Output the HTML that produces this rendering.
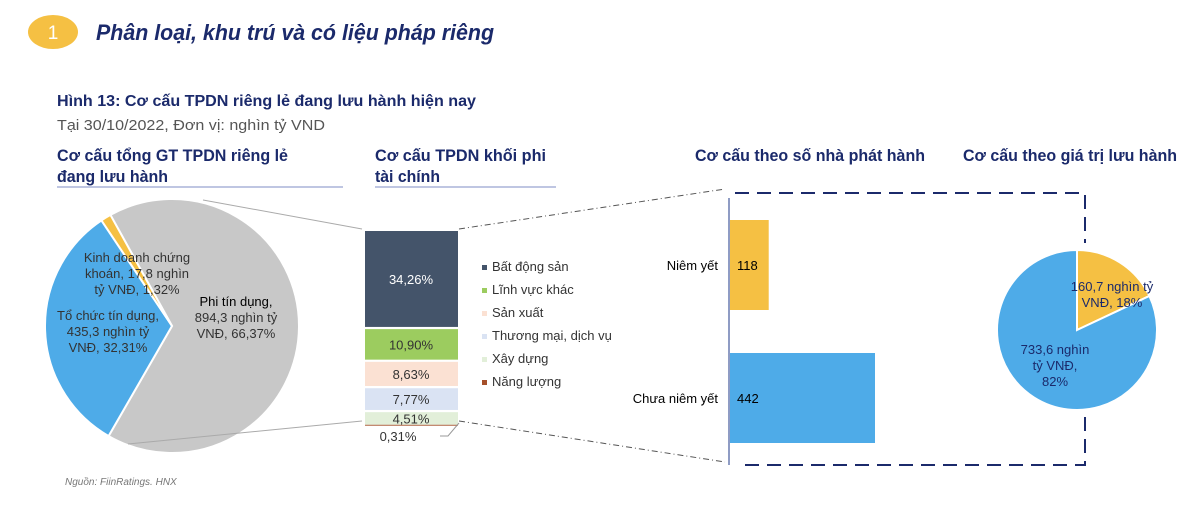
<!DOCTYPE html>
<html><head><meta charset="utf-8"><style>
body{margin:0;background:#fff;width:1200px;height:506px;overflow:hidden;font-family:"Liberation Sans",sans-serif}
svg{display:block}
</style></head><body>
<svg width="1200" height="506" viewBox="0 0 1200 506" xmlns="http://www.w3.org/2000/svg" font-family="Liberation Sans, sans-serif">
<ellipse cx="53" cy="32" rx="25" ry="17" fill="#f5c043"/>
<text x="53" y="39" font-size="19" fill="#fff" text-anchor="middle">1</text>
<text x="96" y="40" font-size="22" font-weight="bold" font-style="italic" fill="#1b2a6b" textLength="398" lengthAdjust="spacingAndGlyphs">Phân loại, khu trú và có liệu pháp riêng</text>
<text x="57" y="106" font-size="16" font-weight="bold" fill="#1b2a6b" textLength="419" lengthAdjust="spacingAndGlyphs">Hình 13: Cơ cấu TPDN riêng lẻ đang lưu hành hiện nay</text>
<text x="57" y="130" font-size="15" fill="#555" textLength="268" lengthAdjust="spacingAndGlyphs">Tại 30/10/2022, Đơn vị: nghìn tỷ VND</text>
<text font-size="17" font-weight="bold" fill="#1b2a6b"><tspan x="57" y="161" textLength="231" lengthAdjust="spacingAndGlyphs">Cơ cấu tổng GT TPDN riêng lẻ</tspan><tspan x="57" y="182" textLength="111" lengthAdjust="spacingAndGlyphs">đang lưu hành</tspan></text>
<line x1="57" y1="187" x2="343" y2="187" stroke="#aab4d8" stroke-width="1.5"/>
<text font-size="17" font-weight="bold" fill="#1b2a6b"><tspan x="375" y="161" textLength="171" lengthAdjust="spacingAndGlyphs">Cơ cấu TPDN khối phi</tspan><tspan x="375" y="182" textLength="65" lengthAdjust="spacingAndGlyphs">tài chính</tspan></text>
<line x1="375" y1="187" x2="556" y2="187" stroke="#aab4d8" stroke-width="1.5"/>
<text x="695" y="161" font-size="17" font-weight="bold" fill="#1b2a6b" textLength="230" lengthAdjust="spacingAndGlyphs">Cơ cấu theo số nhà phát hành</text>
<text x="963" y="161" font-size="17" font-weight="bold" fill="#1b2a6b" textLength="214" lengthAdjust="spacingAndGlyphs">Cơ cấu theo giá trị lưu hành</text>
<g id="pie1"></g>
<g id="stack"></g>
<g id="bars"></g>
<g id="pie2"></g>
<line x1="203" y1="200" x2="362" y2="229" stroke="#aaa"/>
<line x1="128" y1="444" x2="362" y2="421" stroke="#aaa"/>
<line x1="459" y1="229" x2="725" y2="189" stroke="#555" stroke-dasharray="6,3,1,3"/>
<line x1="459" y1="421" x2="725" y2="462" stroke="#555" stroke-dasharray="6,3,1,3"/>
<path d="M735 193 H1085 V243 M1085 417 V465 H742" fill="none" stroke="#1b2a6b" stroke-width="2" stroke-dasharray="14,8"/>
<text x="65" y="485" font-size="10" font-style="italic" fill="#777">Nguồn: FiinRatings. HNX</text>
<script>
const NS="http://www.w3.org/2000/svg";
const pie1Labels=["Phi tín dụng","Tổ chức tín dụng","Kinh doanh chứng khoán"];
const pie1Values=[66.37,32.31,1.32];
const pie1Colors=["#c8c8c8","#4eabe8","#f5c043"];
const stackLabels=["Bất động sản","Lĩnh vực khác","Sản xuất","Thương mại, dịch vụ","Xây dựng","Năng lượng"];
const stackValues=[34.26,10.90,8.63,7.77,4.51,0.31];
const stackText=["34,26%","10,90%","8,63%","7,77%","4,51%","0,31%"];
const stackColors=["#44546a","#9ccc5f","#fbe1d3","#dae3f3","#e2efd9","#a5502a"];
const barLabels=["Niêm yết","Chưa niêm yết"];
const barValues=[118,442];
const barColors=["#f5c043","#4eabe8"];
const pie2Values=[18,82];
const pie2Colors=["#f5c043","#4eabe8"];
function el(t,a,p){const e=document.createElementNS(NS,t);for(const k in a)e.setAttribute(k,a[k]);p.appendChild(e);return e;}
function pie(g,cx,cy,r,vals,cols,start,names){
 const tot=vals.reduce((a,b)=>a+b,0);let a=start;
 vals.forEach((v,i)=>{const b=a+v/tot*360;const rad=d=>(d-90)*Math.PI/180;
  const x1=cx+r*Math.cos(rad(a)),y1=cy+r*Math.sin(rad(a)),x2=cx+r*Math.cos(rad(b)),y2=cy+r*Math.sin(rad(b));
  const p=el("path",{d:`M${cx} ${cy}L${x1} ${y1}A${r} ${r} 0 ${b-a>180?1:0} 1 ${x2} ${y2}Z`,fill:cols[i],stroke:"#fff","stroke-width":2},g);
  
  
  a=b;});
}
pie(document.getElementById("pie1"),172,326,127,pie1Values,pie1Colors,-29,["slice-phi-tin-dung","slice-to-chuc-tin-dung","slice-kinh-doanh-chung-khoan"]);
const g1=document.getElementById("pie1");
function txt(g,x,y,lines,opt,name){const t=el("text",Object.assign({"font-size":13,fill:"#333","text-anchor":"middle"},opt),g);
 
 
 lines.forEach((l,i)=>{const s=el("tspan",{x:x,dy:i?16:0},t);s.textContent=l;});y&&t.setAttribute("y",y);return t;}
txt(g1,137,262,["Kinh doanh chứng","khoán, 17,8 nghìn","tỷ VNĐ, 1,32%"],{},"label-kinh-doanh");
txt(g1,108,320,["Tổ chức tín dụng,","435,3 nghìn tỷ","VNĐ, 32,31%"],{},"label-to-chuc");
txt(g1,236,306,["Phi tín dụng,","894,3 nghìn tỷ","VNĐ, 66,37%"],{},"label-phi-tin-dung").firstChild.setAttribute("fill","#000");
const sg=document.getElementById("stack");const pxPer=2.8;let y=231;
stackValues.forEach((v,i)=>{const h=v*pxPer;
 const r=el("rect",{x:365,y:y,width:93,height:Math.max(h,0.8),fill:stackColors[i]},sg);
 
 
 if(i<5){const t=el("text",{x:411,y:y+h/2+5,"font-size":13,fill:i==0?"#fff":"#333","text-anchor":"middle"},sg);t.textContent=stackText[i];
  
  }
 y+=h+(i<4?2.2:0);});
const lt=el("text",{x:398,y:441,"font-size":13,fill:"#333","text-anchor":"middle"},sg);lt.textContent=stackText[5];


el("path",{d:"M440 436 H448 L459 423",fill:"none",stroke:"#999"},sg);
stackLabels.forEach((l,i)=>{const ly=270+i*23;
 const s=el("rect",{x:482,y:ly-5,width:5,height:5,fill:stackColors[i]},sg);
 
 
 const t=el("text",{x:492,y:ly+1,"font-size":13,fill:"#333"},sg);t.textContent=l;
 
 });
const bg=document.getElementById("bars");const bs=145/442;
barValues.forEach((v,i)=>{const by=220+i*133;
 const r=el("rect",{x:730,y:by,width:v*bs,height:90,fill:barColors[i]},bg);
 
 
 const t=el("text",{x:737,y:by+50,"font-size":13,fill:"#000"},bg);t.textContent=v;
 
 
 const c=el("text",{x:718,y:by+50,"font-size":13,fill:"#000","text-anchor":"end"},bg);c.textContent=barLabels[i];
 
 });
el("line",{x1:729,y1:198,x2:729,y2:465,stroke:"#6a7bb0","stroke-width":1.5},bg);
const g2=document.getElementById("pie2");
pie(g2,1077,330,80,pie2Values,pie2Colors,0,["slice-niem-yet","slice-chua-niem-yet"]);
txt(g2,1112,291,["160,7 nghìn tỷ","VNĐ, 18%"],{fill:"#1b2a6b"},"label-niem-yet-value");
txt(g2,1055,354,["733,6 nghìn","tỷ VNĐ,","82%"],{fill:"#1b2a6b"},"label-chua-niem-yet-value");
</script>
</svg>
</body></html>
